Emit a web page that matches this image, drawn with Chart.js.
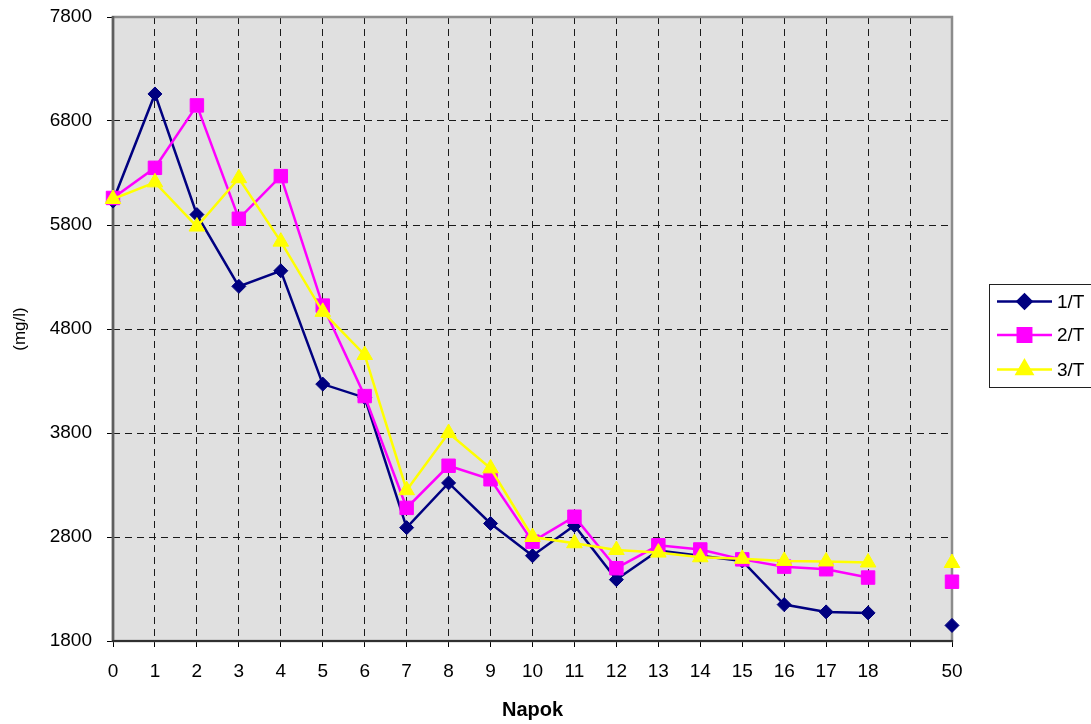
<!DOCTYPE html>
<html>
<head>
<meta charset="utf-8">
<script src="https://cdn.jsdelivr.net/npm/chart.js@4/dist/chart.umd.min.js"></script>
<style>
  html, body { margin: 0; padding: 0; background: #ffffff; }
  canvas { display: block; }
</style>
</head>
<body>
<canvas id="c" width="1091" height="724"></canvas>
<script>
// Days of sampling; the empty slot separates day 18 from day 50
const napok = ['0','1','2','3','4','5','6','7','8','9','10','11','12','13','14','15','16','17','18','','50'];

// Concentration (mg/l) per sample series
const series1T = [6030, 7060, 5900, 5210, 5360, 4270, 4140, 2890, 3320, 2930, 2620, 2910, 2390, 2670, 2620, 2570, 2150, 2080, 2070, null, 1950];
const series2T = [6060, 6350, 6950, 5860, 6270, 5025, 4155, 3080, 3485, 3355, 2755, 2995, 2500, 2720, 2680, 2585, 2515, 2490, 2410, null, 2370];
const series3T = [6050, 6210, 5785, 6250, 5640, 4965, 4550, 3250, 3800, 3460, 2800, 2740, 2675, 2650, 2605, 2590, 2570, 2565, 2555, null, 2550];

const seriesNames = ['1/T', '2/T', '3/T'];

// Y axis range and step
const yMin = 1800, yMax = 7800, yStep = 1000;

const FONT = 'Liberation Sans, Arial, sans-serif';

// Grey plot background
const plotBackground = {
  id: 'plotBackground',
  beforeDraw(chart) {
    const { ctx, chartArea: a } = chart;
    ctx.save();
    ctx.fillStyle = '#e0e0e0';
    ctx.fillRect(a.left, a.top, a.right - a.left, a.bottom - a.top);
    ctx.restore();
  }
};

// Plot frame: grey top/right, darker axis lines
const plotFrame = {
  id: 'plotFrame',
  beforeDatasetsDraw(chart) {
    const { ctx, chartArea: a } = chart;
    ctx.save();
    ctx.setLineDash([]);
    ctx.strokeStyle = '#8c8c8c';
    ctx.lineWidth = 2.5;
    ctx.strokeRect(a.left, a.top, a.right - a.left, a.bottom - a.top);
    ctx.strokeStyle = '#5e5e5e';
    ctx.beginPath();
    ctx.moveTo(a.left, a.top - 1);
    ctx.lineTo(a.left, a.bottom);
    ctx.stroke();
    ctx.strokeStyle = '#303030';
    ctx.lineWidth = 2;
    ctx.beginPath();
    ctx.moveTo(a.left - 1, a.bottom);
    ctx.lineTo(a.right + 1, a.bottom);
    ctx.stroke();
    ctx.restore();
  }
};

// Boxed legend on the right with line + marker samples
const boxLegend = {
  id: 'boxLegend',
  afterDraw(chart) {
    const { ctx } = chart;
    const ds = chart.data.datasets;
    const boxX = 989, boxY = 284, boxW = 120, boxH = 103;
    ctx.save();
    ctx.setLineDash([]);
    ctx.fillStyle = '#ffffff';
    ctx.fillRect(boxX, boxY, boxW, boxH);
    ctx.strokeStyle = '#202020';
    ctx.lineWidth = 1;
    ctx.strokeRect(boxX + 0.5, boxY + 0.5, boxW, boxH);
    const rowY = [301.5, 335, 369.5];
    ds.forEach((d, i) => {
      const y = rowY[i];
      ctx.strokeStyle = d.borderColor;
      ctx.lineWidth = d.borderWidth;
      ctx.beginPath();
      ctx.moveTo(997, y);
      ctx.lineTo(1052, y);
      ctx.stroke();
      ctx.fillStyle = d.pointBackgroundColor;
      ctx.strokeStyle = d.pointBorderColor;
      Chart.helpers.drawPoint(ctx, {
        pointStyle: d.pointStyle,
        radius: d.pointRadius,
        borderWidth: 1,
        rotation: 0
      }, 1024.5, y);
      ctx.fillStyle = '#000000';
      ctx.font = '19px ' + FONT;
      ctx.textAlign = 'left';
      ctx.textBaseline = 'middle';
      ctx.fillText(d.label, 1057, y + 1);
    });
    ctx.restore();
  }
};

function makeSet(label, data, color, style, radius, order) {
  return {
    label, data,
    borderColor: color,
    backgroundColor: color,
    borderWidth: 2.5,
    pointStyle: style,
    pointRadius: radius,
    pointHoverRadius: radius,
    pointBackgroundColor: color,
    pointBorderColor: color,
    pointBorderWidth: 1,
    tension: 0,
    spanGaps: false,
    clip: false,
    order
  };
}

new Chart(document.getElementById('c'), {
  type: 'line',
  data: {
    labels: napok,
    datasets: [
      makeSet(seriesNames[0], series1T, '#000080', 'rectRot', 7, 3),
      makeSet(seriesNames[1], series2T, '#ff00ff', 'rect', 9.5, 2),
      makeSet(seriesNames[2], series3T, '#ffff00', 'triangle', 9, 1)
    ]
  },
  options: {
    responsive: false,
    devicePixelRatio: 1,
    animation: false,
    layout: { padding: { top: 17, right: 139, left: 0, bottom: 0 } },
    plugins: {
      legend: { display: false },
      tooltip: { enabled: false }
    },
    scales: {
      x: {
        type: 'category',
        offset: false,
        grid: {
          color: '#1a1a1a',
          lineWidth: 1,
          drawTicks: true,
          tickLength: 6,
          tickColor: '#000000',
          tickBorderDash: [],
          offset: false
        },
        border: { display: false, dash: [7, 5] },
        ticks: {
          autoSkip: false,
          maxRotation: 0,
          padding: 13,
          color: '#000000',
          font: { family: FONT, size: 19 }
        },
        title: {
          display: true,
          text: 'Napok',
          color: '#000000',
          font: { family: FONT, size: 20, weight: 'bold' },
          padding: { top: 0, bottom: 2 }
        },
        afterFit(scale) {
          scale.height = 83;
          scale.paddingLeft = 0;
          scale.paddingRight = 0;
        }
      },
      y: {
        type: 'linear',
        min: yMin,
        max: yMax,
        grid: {
          color: '#1a1a1a',
          lineWidth: 1,
          drawTicks: true,
          tickLength: 6,
          tickColor: '#000000',
          tickBorderDash: []
        },
        border: { display: false, dash: [7, 5] },
        ticks: {
          stepSize: yStep,
          padding: 15,
          color: '#000000',
          font: { family: FONT, size: 19 },
          callback: (v) => String(v)
        },
        title: {
          display: true,
          text: '(mg/l)',
          color: '#000000',
          font: { family: FONT, size: 17 },
          padding: { top: 10, bottom: 0 }
        },
        afterFit(scale) {
          scale.width = 113;
          scale.paddingTop = 0;
          scale.paddingBottom = 0;
        }
      }
    }
  },
  plugins: [plotBackground, plotFrame, boxLegend]
});
</script>
</body>
</html>
